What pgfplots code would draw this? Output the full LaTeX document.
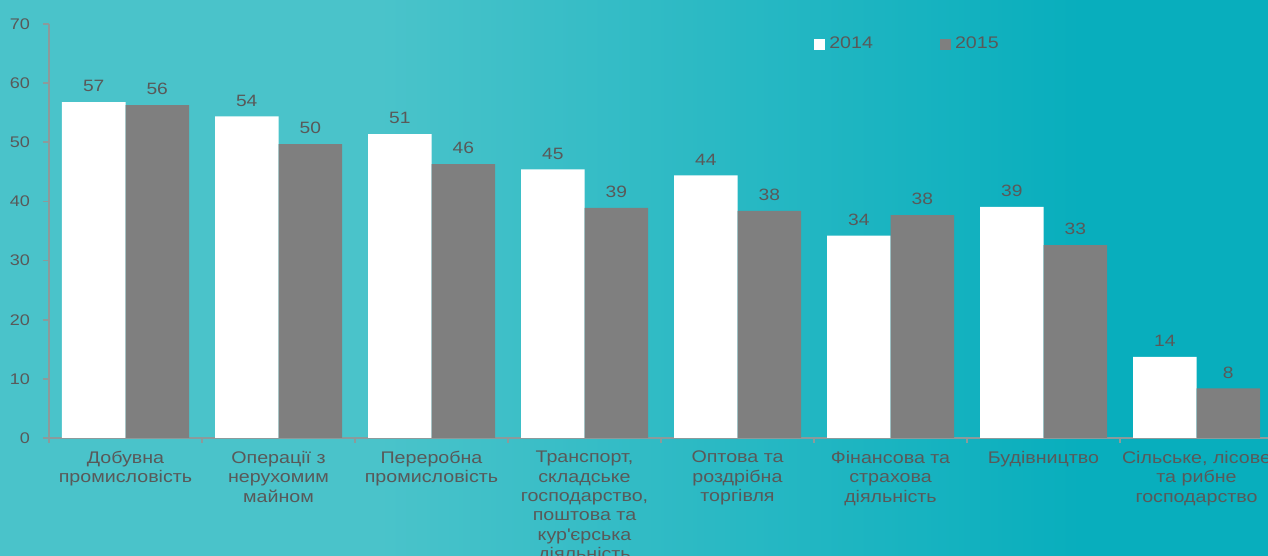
\documentclass[border=0pt]{standalone}
\usepackage{pgfplots}
\pgfplotsset{compat=1.18}
\usepackage{fontspec}
\setmainfont{Liberation Sans}[FakeStretch=1.17]
\definecolor{bgA}{HTML}{4AC3CA}
\definecolor{bgB}{HTML}{08AEBD}
\definecolor{txt}{HTML}{595959}
\definecolor{axl}{HTML}{8C9A9B}
\definecolor{bargray}{HTML}{7F7F7F}
\begin{document}
\begin{tikzpicture}
\useasboundingbox (0,0) rectangle (634pt,278pt);
\clip (0,0) rectangle (634pt,278pt);
% background, light teal on the left to darker teal on the right
\fill[bgA] (0,0) rectangle (190pt,278pt);
\shade[left color=bgA,right color=bgB] (189.5pt,0) rectangle (540.5pt,278pt);
\fill[bgB] (540pt,0) rectangle (634pt,278pt);
\begin{axis}[
  at={(24.5pt,59pt)}, anchor=south west,
  scale only axis, width=612pt, height=207pt,
  ybar=0pt, bar width=31.75pt,
  xmin=-0.5, xmax=7.5, ymin=0, ymax=70,
  ytick={0,10,...,70},
  xtick={0,...,7},
  minor xtick={-0.5,0.5,...,7.5},
  xticklabels={{Добувна\\промисловість},{Операції з\\нерухомим\\майном},{Переробна\\промисловість},{Транспорт,\\складське\\господарство,\\поштова та\\кур\textquotesingle єрська\\діяльність},{Оптова та\\роздрібна\\торгівля},{Фінансова та\\страхова\\діяльність},{Будівництво},{Сільське, лісове\\та рибне\\господарство}},
  axis lines=left,
  axis line style={-, draw=axl, line width=0.8pt},
  tick align=outside,
  major tick length=3pt, minor tick length=2.5pt,
  tick style={draw=axl, line width=0.8pt},
  major x tick style={draw=none},
  tick label style={text=txt},
  yticklabel style={font=\fontsize{7.7}{9}\selectfont, xshift=-3pt},
  xticklabel style={font=\fontsize{8.4}{9.7}\selectfont, align=center},
  /pgf/number format/assume math mode=true,
  /pgf/number format/fixed, /pgf/number format/precision=0,
  nodes near coords,
  nodes near coords style={font=\fontsize{8.2}{9}\selectfont, text=txt, yshift=1.5pt},
  legend columns=2,
  legend cell align=left,
  legend style={draw=none, fill=none, at={(0.62,0.951)}, anchor=west,
    font=\fontsize{8.4}{9}\selectfont, text=txt,
    /tikz/every even column/.append style={column sep=31.5pt}},
  legend image code/.code={\fill[#1] (0pt,-2.75pt) rectangle (5.5pt,2.75pt);},
]
\addplot[fill=white, draw=none] coordinates {(0,56.8) (1,54.4) (2,51.4) (3,45.4) (4,44.4) (5,34.2) (6,39.1) (7,13.7)};
\addplot[fill=bargray, draw=none] coordinates {(0,56.3) (1,49.7) (2,46.3) (3,38.9) (4,38.4) (5,37.7) (6,32.6) (7,8.4)};
\legend{2014,2015}
\end{axis}
\end{tikzpicture}
\end{document}
